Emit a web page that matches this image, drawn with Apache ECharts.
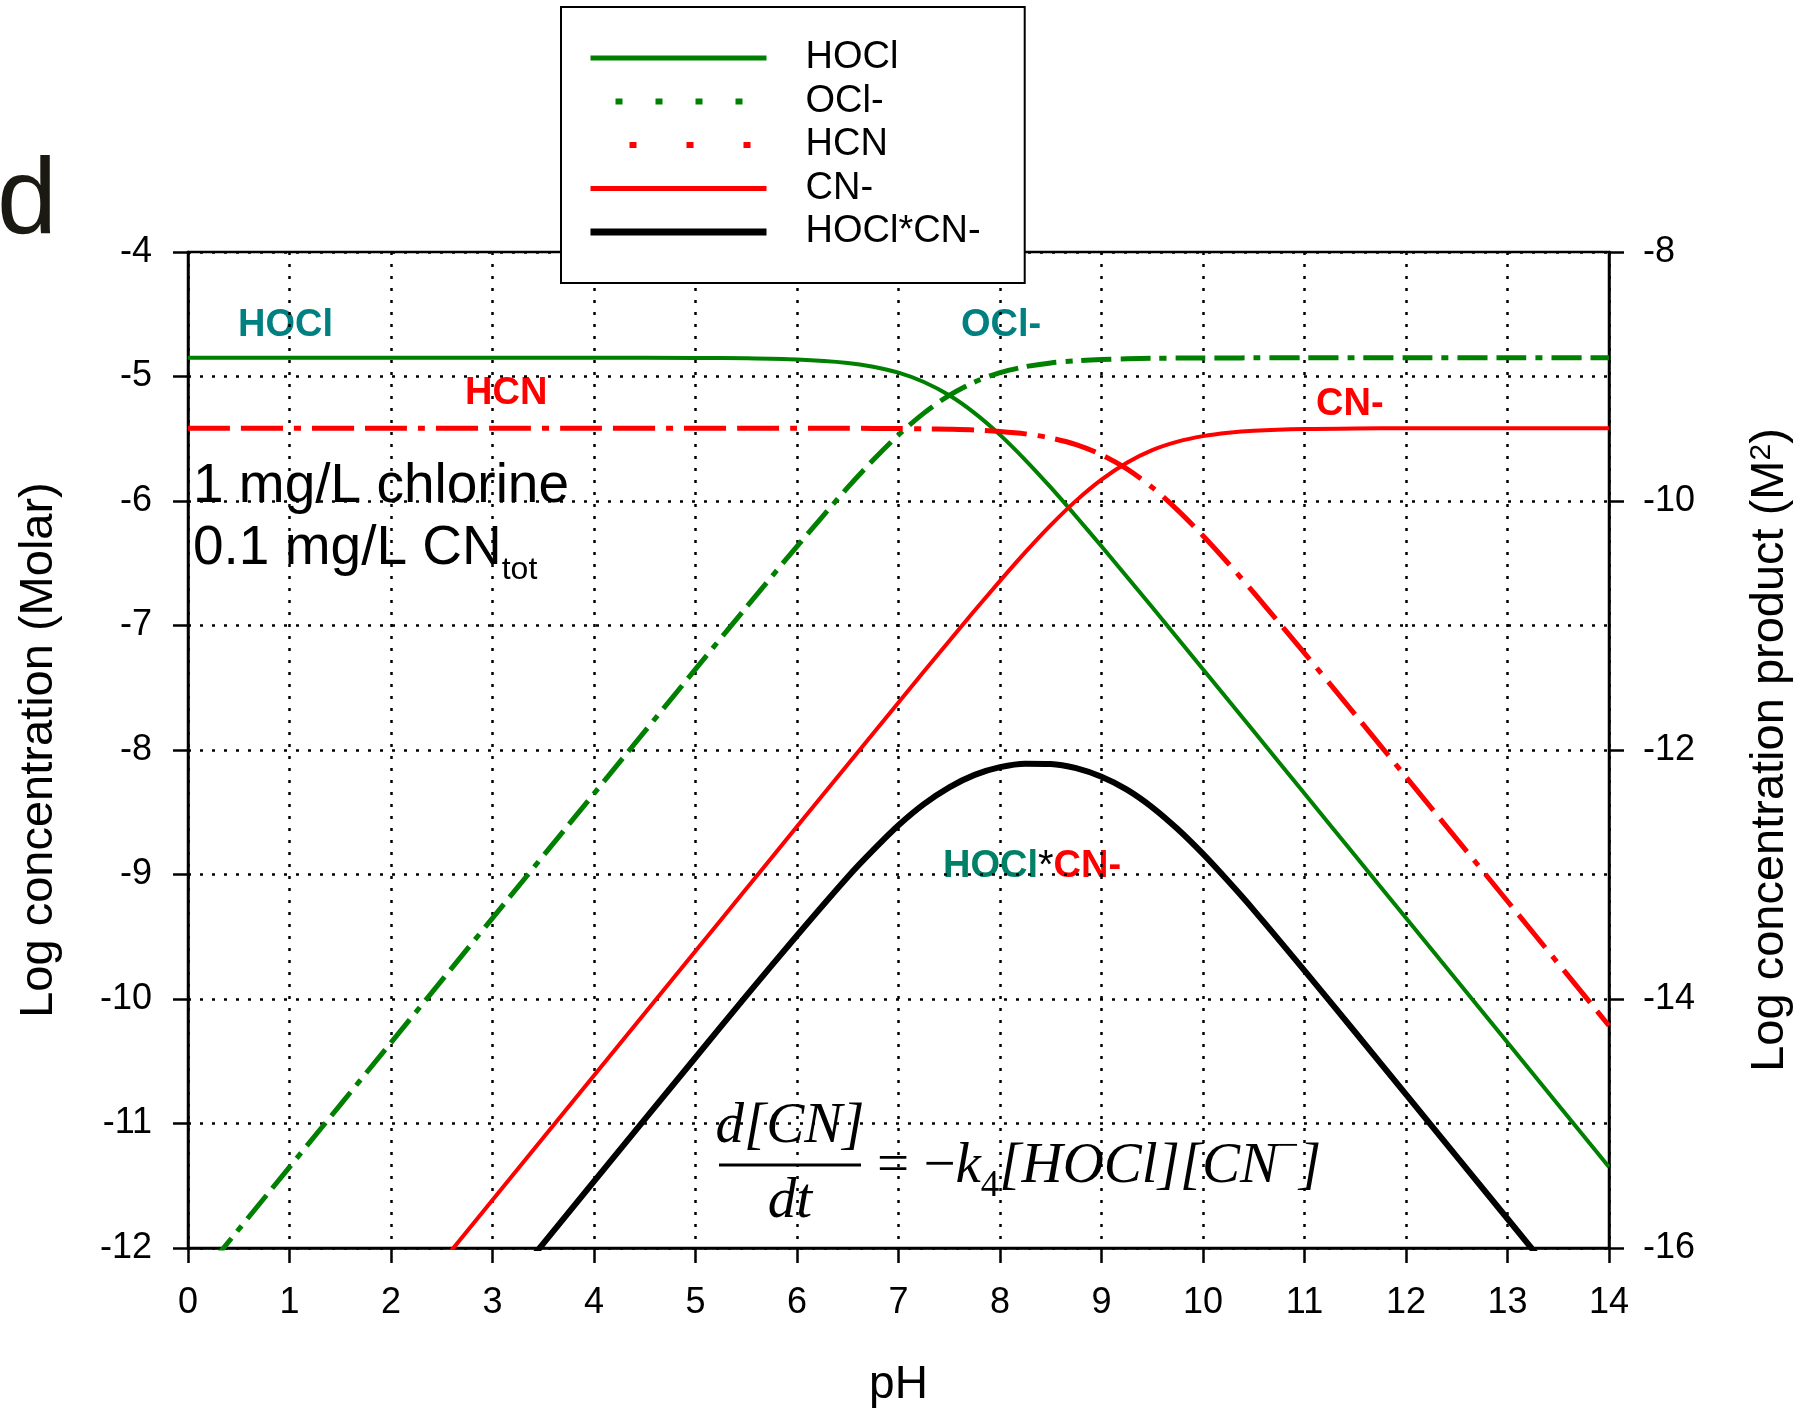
<!DOCTYPE html>
<html>
<head>
<meta charset="utf-8">
<script src="https://cdn.jsdelivr.net/npm/echarts@6/dist/echarts.min.js"></script>
<style>
html,body{margin:0;padding:0;background:#fff;}
#chart{width:1805px;height:1413px;}
</style>
</head>
<body>
<div id="chart"></div>
<script>
// ---- data ----
const pH      = [0, 1, 2, 3, 4, 5, 5.5, 6, 6.5, 6.75, 7, 7.25, 7.5, 7.75, 8, 8.25, 8.5, 8.75, 9, 9.25, 9.5, 9.75, 10, 10.25, 10.5, 11, 11.5, 12, 13, 14];
const hocl    = [-4.85, -4.85, -4.85, -4.85, -4.85, -4.851, -4.854, -4.864, -4.891, -4.921, -4.969, -5.044, -5.151, -5.294, -5.469, -5.671, -5.891, -6.124, -6.364, -6.608, -6.854, -7.102, -7.351, -7.601, -7.85, -8.35, -8.85, -9.35, -10.35, -11.35];
const ocl     = [-12.35, -11.35, -10.35, -9.35, -8.35, -7.351, -6.854, -6.364, -5.891, -5.671, -5.469, -5.294, -5.151, -5.044, -4.969, -4.921, -4.891, -4.874, -4.864, -4.858, -4.854, -4.852, -4.851, -4.851, -4.85, -4.85, -4.85, -4.85, -4.85, -4.85];
const hcn     = [-5.415, -5.415, -5.415, -5.415, -5.415, -5.415, -5.415, -5.415, -5.416, -5.417, -5.418, -5.42, -5.424, -5.43, -5.442, -5.461, -5.494, -5.547, -5.628, -5.742, -5.891, -6.073, -6.279, -6.502, -6.736, -7.222, -7.717, -8.216, -9.215, -10.215];
const cn      = [-14.615, -13.615, -12.615, -11.615, -10.615, -9.615, -9.115, -8.615, -8.116, -7.867, -7.618, -7.37, -7.124, -6.88, -6.642, -6.411, -6.194, -5.997, -5.828, -5.692, -5.591, -5.523, -5.479, -5.452, -5.436, -5.422, -5.417, -5.416, -5.415, -5.415];
const product = [-19.465, -18.465, -17.465, -16.465, -15.465, -14.47, -13.975, -13.49, -13.02, -12.805, -12.605, -12.435, -12.3, -12.2, -12.138, -12.11, -12.112, -12.146, -12.215, -12.318, -12.46, -12.635, -12.835, -13.055, -13.286, -13.772, -14.267, -14.766, -15.765, -16.765];

const seriesNames = ['HOCl', 'OCl-', 'HCN', 'CN-', 'HOCl*CN-'];
const xTicks = {min: 0, max: 14, interval: 1};
const yLeftTicks = {min: -12, max: -4, interval: 1};
const yRightTicks = {min: -16, max: -8, interval: 2};

const pair = (ys) => pH.map((x, i) => [x, ys[i]]);

const FONT = '"Liberation Sans", Arial, sans-serif';
const SERIF = '"Liberation Serif", "DejaVu Serif", serif';
const GREEN = '#008000', RED = '#ff0000', TEAL = '#008080';

const chart = echarts.init(document.getElementById('chart'), null, {renderer: 'canvas'});

const gridDots = {color: '#000', width: 2.5, type: [3, 9]};
const hideSym = {color: 'rgba(0,0,0,0)', borderColor: 'rgba(0,0,0,0)', borderWidth: 0};

const option = {
  animation: false,
  backgroundColor: '#fff',
  grid: {left: 188, right: 196, top: 252, bottom: 165, show: true, borderColor: '#000', borderWidth: 2.5, backgroundColor: 'transparent'},
  legend: {
    left: 561, top: 7,
    orient: 'vertical',
    backgroundColor: '#fff',
    borderColor: '#000', borderWidth: 2,
    padding: [32, 44, 32, 26],
    itemWidth: 176, itemHeight: 14, itemGap: 5.5,
    itemStyle: hideSym,
    textStyle: {fontFamily: FONT, fontSize: 38, color: '#000', lineHeight: 38, padding: [0, 0, 0, 34]},
    data: [
      {name: 'HOCl', itemStyle: hideSym, lineStyle: {width: 5}},
      {name: 'OCl-', itemStyle: hideSym, lineStyle: {width: 6, type: [7, 33], dashOffset: -25}},
      {name: 'HCN', itemStyle: hideSym, lineStyle: {width: 6, type: [7, 50], dashOffset: -39}},
      {name: 'CN-', itemStyle: hideSym, lineStyle: {width: 5}},
      {name: 'HOCl*CN-', itemStyle: hideSym, lineStyle: {width: 7}}
    ],
    z: 10
  },
  xAxis: {
    type: 'value', min: xTicks.min, max: xTicks.max, interval: xTicks.interval,
    name: 'pH', nameLocation: 'middle', nameGap: 114,
    nameTextStyle: {fontFamily: FONT, fontSize: 46, color: '#000'},
    axisLine: {show: true, lineStyle: {color: '#000', width: 2.5}},
    axisTick: {show: true, inside: false, length: 15, lineStyle: {color: '#000', width: 2.5}},
    axisLabel: {margin: 37, fontFamily: FONT, fontSize: 36, color: '#000'},
    splitLine: {show: true, lineStyle: gridDots}
  },
  yAxis: [
    {
      type: 'value', min: yLeftTicks.min, max: yLeftTicks.max, interval: yLeftTicks.interval, position: 'left',
      name: 'Log concentration (Molar)', nameLocation: 'middle', nameGap: 125,
      nameTextStyle: {fontFamily: FONT, fontSize: 47, color: '#000', lineHeight: 47},
      axisLine: {show: true, lineStyle: {color: '#000', width: 2.5}},
      axisTick: {show: true, inside: false, length: 15, lineStyle: {color: '#000', width: 2.5}},
      axisLabel: {margin: 36, fontFamily: FONT, fontSize: 36, color: '#000'},
      splitLine: {show: true, lineStyle: gridDots}
    },
    {
      type: 'value', min: yRightTicks.min, max: yRightTicks.max, interval: yRightTicks.interval, position: 'right',
      name: '{a|Log concentration product (M}{s|2}{a|)}', nameLocation: 'middle', nameGap: 138,
      nameTextStyle: {
        fontFamily: FONT, fontSize: 47, color: '#000', lineHeight: 47,
        rich: {
          a: {fontFamily: FONT, fontSize: 47, color: '#000', lineHeight: 47, verticalAlign: 'middle'},
          s: {fontFamily: FONT, fontSize: 30, color: '#000', lineHeight: 30, verticalAlign: 'top'}
        }
      },
      axisLine: {show: true, lineStyle: {color: '#000', width: 2.5}},
      axisTick: {show: true, inside: false, length: 15, lineStyle: {color: '#000', width: 2.5}},
      axisLabel: {margin: 34, fontFamily: FONT, fontSize: 36, color: '#000'},
      splitLine: {show: false}
    }
  ],
  series: [
    {name: 'HOCl', type: 'line', data: pair(hocl), symbol: 'none', smooth: 0.3, clip: true,
     lineStyle: {color: GREEN, width: 4}, itemStyle: {color: GREEN}},
    {name: 'OCl-', type: 'line', data: pair(ocl), symbol: 'none', smooth: 0.3, clip: true,
     lineStyle: {color: GREEN, width: 5, type: [30, 9, 30, 9, 7, 9]}, itemStyle: {color: GREEN}},
    {name: 'HCN', type: 'line', data: pair(hcn), symbol: 'none', smooth: 0.3, clip: true,
     lineStyle: {color: RED, width: 5, type: [42, 11, 42, 11, 7, 11]}, itemStyle: {color: RED}},
    {name: 'CN-', type: 'line', data: pair(cn), symbol: 'none', smooth: 0.3, clip: true,
     lineStyle: {color: RED, width: 4}, itemStyle: {color: RED}},
    {name: 'HOCl*CN-', type: 'line', yAxisIndex: 1, data: pair(product), symbol: 'none', smooth: 0.3, clip: true,
     lineStyle: {color: '#000', width: 6}, itemStyle: {color: '#000'}}
  ],
  graphic: [
    {type: 'text', x: -3, y: 203, style: {text: 'd', font: '108px ' + FONT, fill: '#1a1a12', align: 'left', verticalAlign: 'middle', textAlign: 'left', textVerticalAlign: 'middle'}},
    {type: 'text', x: 238, y: 326, style: {text: 'HOCl', font: 'bold 38px ' + FONT, fill: TEAL, align: 'left', verticalAlign: 'middle', textAlign: 'left', textVerticalAlign: 'middle'}},
    {type: 'text', x: 961, y: 326, style: {text: 'OCl-', font: 'bold 38px ' + FONT, fill: TEAL, align: 'left', verticalAlign: 'middle', textAlign: 'left', textVerticalAlign: 'middle'}},
    {type: 'text', x: 465, y: 394, style: {text: 'HCN', font: 'bold 38px ' + FONT, fill: RED, align: 'left', verticalAlign: 'middle', textAlign: 'left', textVerticalAlign: 'middle'}},
    {type: 'text', x: 1316, y: 405, style: {text: 'CN-', font: 'bold 38px ' + FONT, fill: RED, align: 'left', verticalAlign: 'middle', textAlign: 'left', textVerticalAlign: 'middle'}},
    {type: 'text', x: 943, y: 867, style: {
      text: '{g|HOCl}{k|*}{r|CN-}', align: 'left', verticalAlign: 'middle', textAlign: 'left', textVerticalAlign: 'middle',
      rich: {
        g: {font: 'bold 38px ' + FONT, fill: '#008066'},
        k: {font: '40px ' + FONT, fill: '#000'},
        r: {font: 'bold 38px ' + FONT, fill: RED}
      }}},
    {type: 'text', x: 193, y: 487, style: {text: '1 mg/L chlorine', font: '55px ' + FONT, fill: '#000', align: 'left', verticalAlign: 'middle', textAlign: 'left', textVerticalAlign: 'middle'}},
    {type: 'text', x: 193, y: 549, style: {
      text: '{n|0.1 mg/L CN}{s|tot}', align: 'left', verticalAlign: 'middle', textAlign: 'left', textVerticalAlign: 'middle',
      rich: {
        n: {font: '55px ' + FONT, fill: '#000', lineHeight: 74, verticalAlign: 'middle'},
        s: {font: '32px ' + FONT, fill: '#000', lineHeight: 32, verticalAlign: 'bottom'}
      }}},
    // rate equation
    {type: 'text', x: 790, y: 1127, style: {text: 'd[CN]', font: 'italic 57px ' + SERIF, fill: '#000', align: 'center', verticalAlign: 'middle', textAlign: 'center', textVerticalAlign: 'middle'}},
    {type: 'line', shape: {x1: 719, y1: 1165, x2: 861, y2: 1165}, style: {stroke: '#000', lineWidth: 3}},
    {type: 'text', x: 790, y: 1202, style: {text: 'dt', font: 'italic 57px ' + SERIF, fill: '#000', align: 'center', verticalAlign: 'middle', textAlign: 'center', textVerticalAlign: 'middle'}},
    {type: 'text', x: 877, y: 1167, style: {
      text: '{o|= −}{n|k}{s|4}{n|[HOCl][CN}{p|−}{n|]}', align: 'left', verticalAlign: 'middle', textAlign: 'left', textVerticalAlign: 'middle',
      rich: {
        o: {font: '57px ' + SERIF, fill: '#000', lineHeight: 76, verticalAlign: 'middle'},
        n: {font: 'italic 57px ' + SERIF, fill: '#000', lineHeight: 76, verticalAlign: 'middle'},
        s: {font: '37px ' + SERIF, fill: '#000', lineHeight: 37, verticalAlign: 'bottom'},
        p: {font: '37px ' + SERIF, fill: '#000', lineHeight: 37, verticalAlign: 'top'}
      }}}
  ]
};
chart.setOption(option);
</script>
</body>
</html>
